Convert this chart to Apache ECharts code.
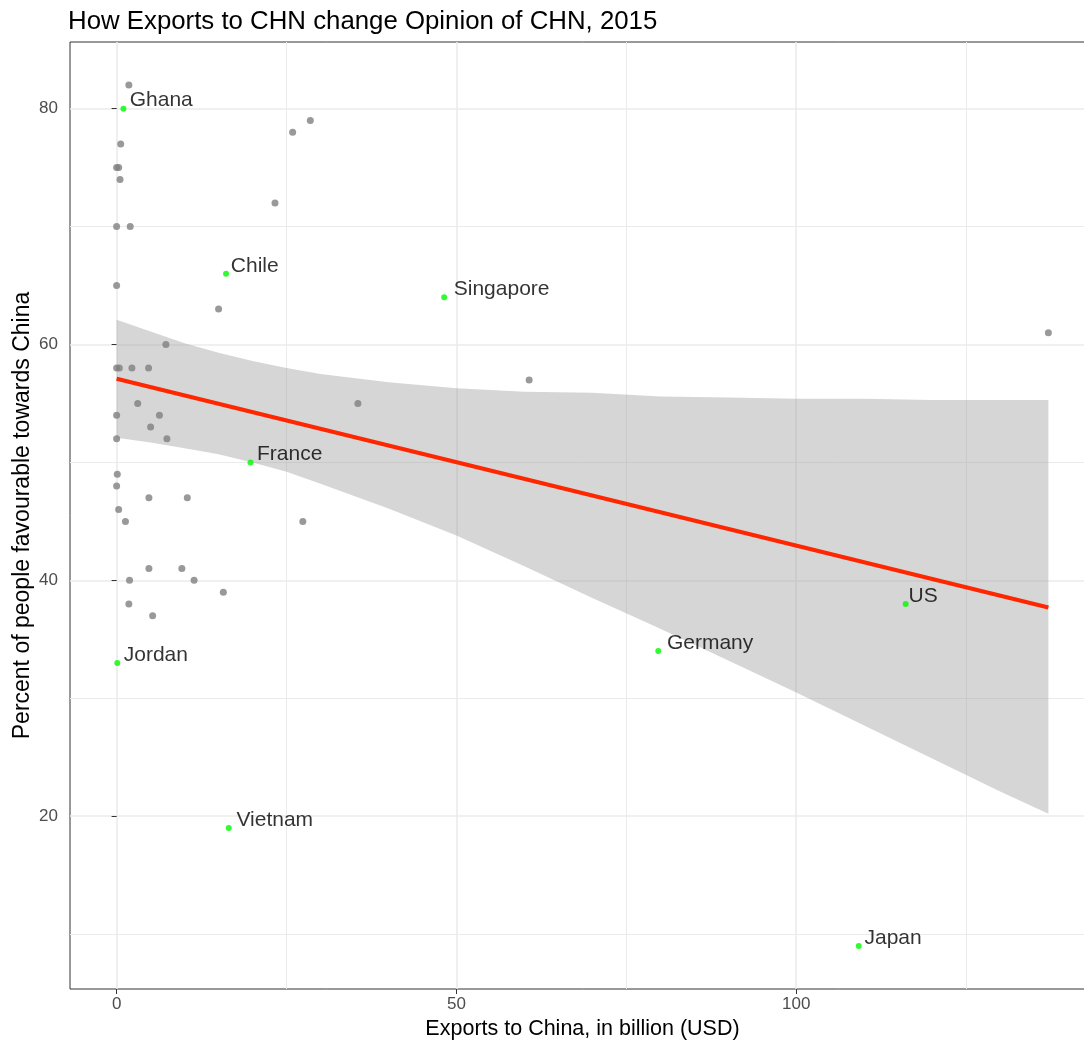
<!DOCTYPE html>
<html><head><meta charset="utf-8">
<script src="https://cdn.jsdelivr.net/npm/echarts@6/dist/echarts.min.js"></script>
<style>html,body{margin:0;padding:0;background:#fff;overflow:hidden;width:1084px;height:1042px}#c{width:1100px;height:1042px}</style>
</head><body><div id="c"></div>
<script>
// ---- data ----
const grayX = [1.8, 0.6, 0.0, 0.3, 0.5, 0.0, 2.0, 0.0, 15.0, 7.25, 25.9, 28.5, 23.3,
  0.0, 0.4, 2.25, 4.7, 3.1, 0.0, 6.3, 5.0, 0.0, 7.4, 0.1, 0.0, 4.75, 10.4, 0.3, 1.3, 27.4,
  4.75, 9.6, 1.9, 11.4, 15.7, 1.8, 5.3, 35.5, 60.7, 137.1];
const grayY = [82, 77, 75, 75, 74, 70, 70, 65, 63, 60, 78, 79, 72,
  58, 58, 58, 58, 55, 54, 54, 53, 52, 52, 49, 48, 47, 47, 46, 45, 45,
  41, 41, 40, 40, 39, 38, 37, 55, 57, 61];
const labelNames = ['Ghana', 'Chile', 'Singapore', 'France', 'US', 'Germany', 'Jordan', 'Vietnam', 'Japan'];
const labelX = [1.0, 16.1, 48.2, 19.7, 116.1, 79.7, 0.1, 16.5, 109.2];
const labelY = [80, 66, 64, 50, 38, 34, 33, 19, 9];
const fitX = [0, 137.1];
const fitY = [57.1, 37.7];
const bandX =     [0,    5,    10,   15,   20,   25,   30,   40,   50,   60,   70,   80,   90,   100,  110,  120,  130,  137.1];
const bandLower = [52.1, 51.7, 51.2, 50.7, 50.0, 49.2, 48.2, 46.1, 43.8, 41.2, 38.5, 35.9, 33.2, 30.5, 27.7, 24.9, 22.1, 20.2];
const bandUpper = [62.1, 61.1, 60.1, 59.3, 58.6, 58.0, 57.5, 56.8, 56.3, 56.0, 55.9, 55.6, 55.5, 55.4, 55.4, 55.3, 55.3, 55.3];
const xTicks = [0, 50, 100];
const yTicks = [20, 40, 60, 80];
const xMinor = [25, 75, 125];
const yMinor = [10, 30, 50, 70];

const FONT = '"Liberation Sans", Arial, Helvetica, sans-serif';
const ctx = document.createElement('canvas').getContext('2d');
ctx.font = '21px ' + FONT;
const labelData = labelNames.map((n, i) => {
  const w = ctx.measureText(n).width;
  return { name: n, value: [labelX[i], labelY[i]], label: { position: [3 + 0.1 * w, -5] } };
});

const gridLines = []
  .concat(xTicks.map(v => ({ xAxis: v, lineStyle: { width: 1.6 } })))
  .concat(yTicks.map(v => ({ yAxis: v, lineStyle: { width: 1.6 } })))
  .concat(xMinor.map(v => ({ xAxis: v, lineStyle: { width: 1 } })))
  .concat(yMinor.map(v => ({ yAxis: v, lineStyle: { width: 1 } })));

const chart = echarts.init(document.getElementById('c'), null, { renderer: 'canvas' });
chart.setOption({
  animation: false,
  backgroundColor: '#fff',
  textStyle: { fontFamily: FONT },
  title: {
    text: 'How Exports to CHN change Opinion of CHN, 2015',
    left: 63, top: 4,
    textStyle: { fontFamily: FONT, fontSize: 25.8, fontWeight: 'normal', color: '#000' }
  },
  grid: { left: 70, top: 42, right: 5, bottom: 53, outerBoundsMode: 'none', containLabel: false,
    show: true, borderColor: '#333', borderWidth: 1, backgroundColor: 'transparent' },
  xAxis: {
    type: 'value', min: -6.86, max: 143.96,
    name: 'Exports to China, in billion (USD)', nameLocation: 'middle', nameGap: 29, nameMoveOverlap: false,
    nameTextStyle: { fontFamily: FONT, fontSize: 21.5, color: '#000' },
    axisLine: { show: false },
    axisTick: { show: true, customValues: xTicks, length: 5, lineStyle: { color: '#333', width: 1 } },
    axisLabel: { customValues: xTicks, fontSize: 17, color: '#4d4d4d', margin: 7, fontFamily: FONT },
    splitLine: { show: false }
  },
  yAxis: {
    type: 'value', min: 5.35, max: 85.65,
    name: 'Percent of people favourable towards China', nameLocation: 'middle', nameGap: 36, nameRotate: 90,
    nameMoveOverlap: false,
    nameTextStyle: { fontFamily: FONT, fontSize: 23, color: '#000' },
    axisLine: { show: false },
    axisTick: { show: true, customValues: yTicks, length: 5, lineStyle: { color: '#333', width: 1 } },
    axisLabel: { customValues: yTicks, fontSize: 17, color: '#4d4d4d', margin: 12, fontFamily: FONT },
    splitLine: { show: false }
  },
  series: [
    {
      type: 'line', data: [], z: 0, silent: true,
      markLine: {
        z: 0, silent: true, symbol: ['none', 'none'], label: { show: false },
        lineStyle: { color: '#ebebeb', type: 'solid' },
        emphasis: { disabled: true },
        data: gridLines
      }
    },
    {
      type: 'custom', z: 1, silent: true,
      data: [[bandX[0], bandLower[0]]],
      renderItem: function (params, api) {
        const pts = [];
        for (let i = 0; i < bandX.length; i++) pts.push(api.coord([bandX[i], bandUpper[i]]));
        for (let i = bandX.length - 1; i >= 0; i--) pts.push(api.coord([bandX[i], bandLower[i]]));
        return { type: 'polygon', shape: { points: pts }, style: { fill: 'rgba(153,153,153,0.4)' } };
      }
    },
    {
      type: 'line', z: 2, silent: true, symbol: 'none',
      data: fitX.map((x, i) => [x, fitY[i]]),
      lineStyle: { color: '#ff2600', width: 4 }
    },
    {
      type: 'scatter', z: 3, silent: true, symbolSize: 7,
      itemStyle: { color: '#7f7f7f' },
      data: grayX.map((x, i) => [x, grayY[i]])
    },
    {
      type: 'scatter', z: 4, silent: true, symbolSize: 6,
      itemStyle: { color: '#00f900' },
      label: { show: true, formatter: '{b}', align: 'left', verticalAlign: 'middle', fontSize: 21, color: '#000', fontFamily: FONT },
      data: labelData
    }
  ]
});
</script></body></html>
